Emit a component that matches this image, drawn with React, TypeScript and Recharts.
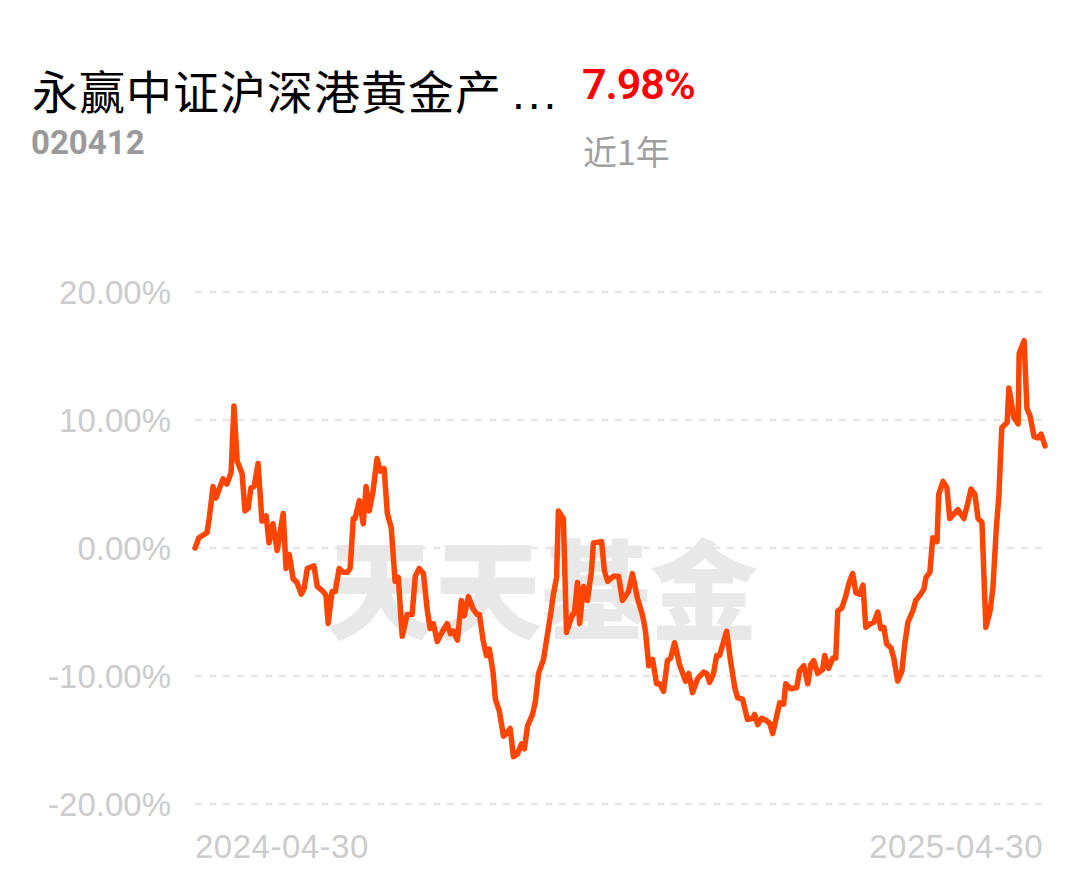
import { LineChart, Line, XAxis, YAxis, CartesianGrid } from "recharts";

// trading day index (0 = 2024-04-30, 240 = 2025-04-30)
const days = [
  0, 1.1, 3.4, 4.0, 5.1, 5.9, 7.9, 9.0, 10.2, 11.0, 11.9, 13.3, 14.1, 15.0, 15.8, 16.7, 17.8, 18.9, 20.1, 20.9,
  22.0, 23.2, 24.9, 25.7, 26.6, 27.7, 28.8, 30.0, 30.8, 31.7, 33.6, 34.5, 36.2, 37.0, 37.6, 38.7, 39.6, 40.7, 41.8, 43.0,
  43.8, 44.7, 45.2, 46.4, 47.5, 48.3, 49.2, 50.3, 51.4, 52.3, 53.4, 54.3, 55.4, 56.5, 57.4, 58.5, 59.9, 61.3, 62.2, 63.3,
  64.5, 65.6, 66.4, 67.3, 68.4, 69.5, 71.2, 72.1, 72.9, 74.1, 75.2, 76.0, 77.2, 78.6, 79.7, 80.3, 81.4, 82.3, 83.1, 84.2,
  84.8, 85.9, 87.1, 87.9, 89.0, 89.9, 91.0, 92.2, 93.0, 93.9, 95.3, 96.1, 97.0, 98.4, 99.2, 100.4, 101.2, 102.1, 102.6, 104.0,
  104.9, 105.7, 106.6, 107.1, 108.0, 108.6, 109.7, 110.8, 111.9, 112.5, 114.8, 115.6, 116.5, 118.2, 119.6, 120.7, 122.4, 123.5, 124.9, 126.4,
  127.2, 128.1, 129.2, 130.3, 131.2, 132.3, 133.4, 134.3, 135.4, 136.8, 138.5, 139.4, 140.5, 141.9, 143.6, 144.5, 145.3, 146.4, 147.3, 148.1,
  150.1, 151.2, 152.4, 153.2, 154.6, 156.0, 157.5, 158.0, 158.9, 160.0, 161.4, 162.3, 163.1, 165.1, 166.2, 166.8, 168.2, 169.9, 170.7, 171.9,
  173.0, 173.9, 174.7, 175.8, 177.2, 177.8, 178.9, 180.1, 180.9, 181.5, 182.6, 183.7, 184.6, 185.7, 186.6, 187.7, 188.6, 189.4, 190.8, 191.7,
  192.8, 193.6, 194.5, 195.3, 196.5, 197.3, 198.4, 199.6, 200.4, 201.3, 202.7, 203.5, 204.9, 205.8, 206.4, 207.5, 208.3, 209.5, 210.0, 211.2,
  212.3, 213.1, 215.4, 217.1, 218.2, 219.1, 220.2, 221.1, 222.2, 223.3, 224.5, 225.3, 226.2, 227.0, 227.8, 229.3, 229.8, 231.2, 232.4, 232.7,
  234.1, 234.9, 235.8, 236.9, 238.0, 238.9, 240.0,
];

// cumulative return, %
const returns = [
  0, 0.8, 1.2, 2.3, 4.8, 3.9, 5.4, 5.0, 5.9, 11.1, 6.8, 5.8, 2.9, 3.1, 4.7, 4.8, 6.6, 2.1, 2.5, 0.4,
  1.9, -0.2, 2.7, -1.6, -0.5, -2.4, -2.7, -3.6, -3.2, -1.6, -1.4, -3.0, -3.4, -3.7, -5.9, -3.4, -3.4, -1.6, -1.9, -1.9,
  -1.6, 2.3, 2.3, 3.7, 1.9, 4.8, 2.9, 4.5, 7.0, 6.0, 6.2, 2.7, 1.6, -2.6, -2.3, -6.9, -5.2, -5.2, -2.2, -1.6,
  -2.0, -4.9, -6.3, -5.9, -7.3, -6.7, -5.9, -6.7, -6.5, -7.2, -4.1, -5.3, -3.8, -4.8, -5.2, -5.2, -7.3, -8.4, -7.9, -9.8,
  -11.8, -12.7, -14.7, -14.5, -14.1, -16.3, -16.1, -15.3, -15.7, -13.9, -13.0, -12.0, -9.8, -8.7, -7.3, -5.2, -3.6, -2.3, 2.9, 2.3,
  -6.6, -5.9, -5.2, -5.1, -2.7, -5.9, -3.0, -4.1, -1.9, 0.4, 0.5, -1.8, -2.6, -2.2, -2.2, -4.1, -3.4, -2.0, -3.9, -5.3,
  -6.5, -9.2, -8.7, -10.6, -10.6, -11.2, -8.8, -8.6, -7.4, -9.1, -10.4, -9.8, -11.3, -10.2, -9.7, -9.8, -10.5, -9.8, -8.4, -8.4,
  -6.5, -8.8, -10.9, -11.7, -11.8, -13.4, -13.3, -13.0, -13.8, -13.3, -13.5, -13.7, -14.5, -12.1, -12.2, -10.6, -11.0, -10.9, -9.6, -9.2,
  -10.6, -9.1, -8.8, -9.8, -9.5, -8.4, -9.4, -8.6, -8.6, -4.9, -4.7, -3.8, -2.8, -2.0, -3.5, -3.6, -2.9, -6.2, -5.9, -5.8,
  -5.0, -6.3, -6.2, -7.5, -7.8, -8.6, -10.4, -9.6, -7.5, -5.8, -4.9, -4.1, -3.6, -3.2, -2.3, -1.9, 0.8, 0.5, 4.2, 5.2,
  4.7, 2.3, 3.0, 2.3, 3.5, 4.6, 4.2, 2.3, 2.0, -6.2, -4.9, -3.1, 1.3, 4.2, 9.4, 9.8, 12.5, 10.2, 9.7, 15.2,
  16.2, 10.9, 10.3, 8.7, 8.6, 8.9, 7.98,
];

const yTicks = [-20, -10, 0, 10, 20];
const xTicks = [0, 240];
const xLabels = ["2024-04-30", "2025-04-30"];

const data = days.map((d, i) => ({ day: d, value: returns[i] }));

const XTick = (props: any) => {
  const { x, y, payload } = props;
  const first = payload.value === xTicks[0];
  return (
    <text
      x={first ? x : x - 2}
      y={y}
      dy={46}
      textAnchor={first ? "start" : "end"}
      fill="#cccccc"
      fontSize={33}
      letterSpacing={0.5}
      fontFamily="'Liberation Sans', Arial, sans-serif"
    >
      {first ? xLabels[0] : xLabels[1]}
    </text>
  );
};

export default function App() {
  return (
    <div
      style={{
        position: "absolute",
        left: 0,
        top: 0,
        width: 1089,
        height: 881,
        background: "#fff",
        overflow: "hidden",
      }}
    >
      <div
        style={{
          position: "absolute",
          left: 32,
          top: 56,
          fontSize: 46,
          letterSpacing: 1,
          fontFamily: "'Noto Sans CJK SC', sans-serif",
          color: "#000",
          whiteSpace: "nowrap",
        }}
      >
        永赢中证沪深港黄金产
        <span
          style={{
            fontFamily: "'Liberation Sans', Arial, sans-serif",
            letterSpacing: 3,
            marginLeft: 10,
          }}
        >
          ...
        </span>
      </div>
      <div
        style={{
          position: "absolute",
          left: 582,
          top: 59,
          fontSize: 43,
          fontWeight: 600,
          letterSpacing: -1,
          fontFamily: "'Roboto', sans-serif",
          color: "#ff0000",
        }}
      >
        7.98%
      </div>
      <div
        style={{
          position: "absolute",
          left: 31,
          top: 123,
          fontSize: 33,
          fontWeight: 700,
          fontFamily: "'Roboto', sans-serif",
          color: "#9a9a9a",
        }}
      >
        020412
      </div>
      <div
        style={{
          position: "absolute",
          left: 583,
          top: 126,
          fontSize: 34,
          fontFamily: "'Noto Sans CJK SC', sans-serif",
          color: "#a0a0a0",
        }}
      >
        近1年
      </div>
      <div
        style={{
          position: "absolute",
          left: 326,
          top: 506,
          fontSize: 108,
          fontWeight: 900,
          fontFamily: "'Noto Sans CJK SC', sans-serif",
          color: "#e8e8e8",
          whiteSpace: "nowrap",
        }}
      >
        天天基金
      </div>
      <div style={{ position: "absolute", left: 0, top: 0 }}>
        <LineChart
          width={1089}
          height={881}
          data={data}
          margin={{ top: 292, right: 44, left: 0, bottom: 0 }}
        >
          <CartesianGrid
            vertical={false}
            stroke="#e6e6e6"
            strokeWidth={2.5}
            strokeDasharray="7 7"
          />
          <XAxis
            dataKey="day"
            type="number"
            domain={[0, 240]}
            ticks={xTicks}
            axisLine={false}
            tickLine={false}
            height={77}
            tick={<XTick />}
            interval={0}
          />
          <YAxis
            type="number"
            domain={[-20, 20]}
            ticks={yTicks}
            width={195}
            axisLine={false}
            tickLine={false}
            tickMargin={18}
            tick={{
              fill: "#cccccc",
              fontSize: 33,
              fontFamily: "'Liberation Sans', Arial, sans-serif",
            }}
            tickFormatter={(v: number) => v.toFixed(2) + "%"}
          />
          <Line
            type="linear"
            dataKey="value"
            stroke="#ff4500"
            strokeWidth={5.5}
            dot={false}
            isAnimationActive={false}
            strokeLinejoin="round"
            strokeLinecap="round"
          />
        </LineChart>
      </div>
    </div>
  );
}
